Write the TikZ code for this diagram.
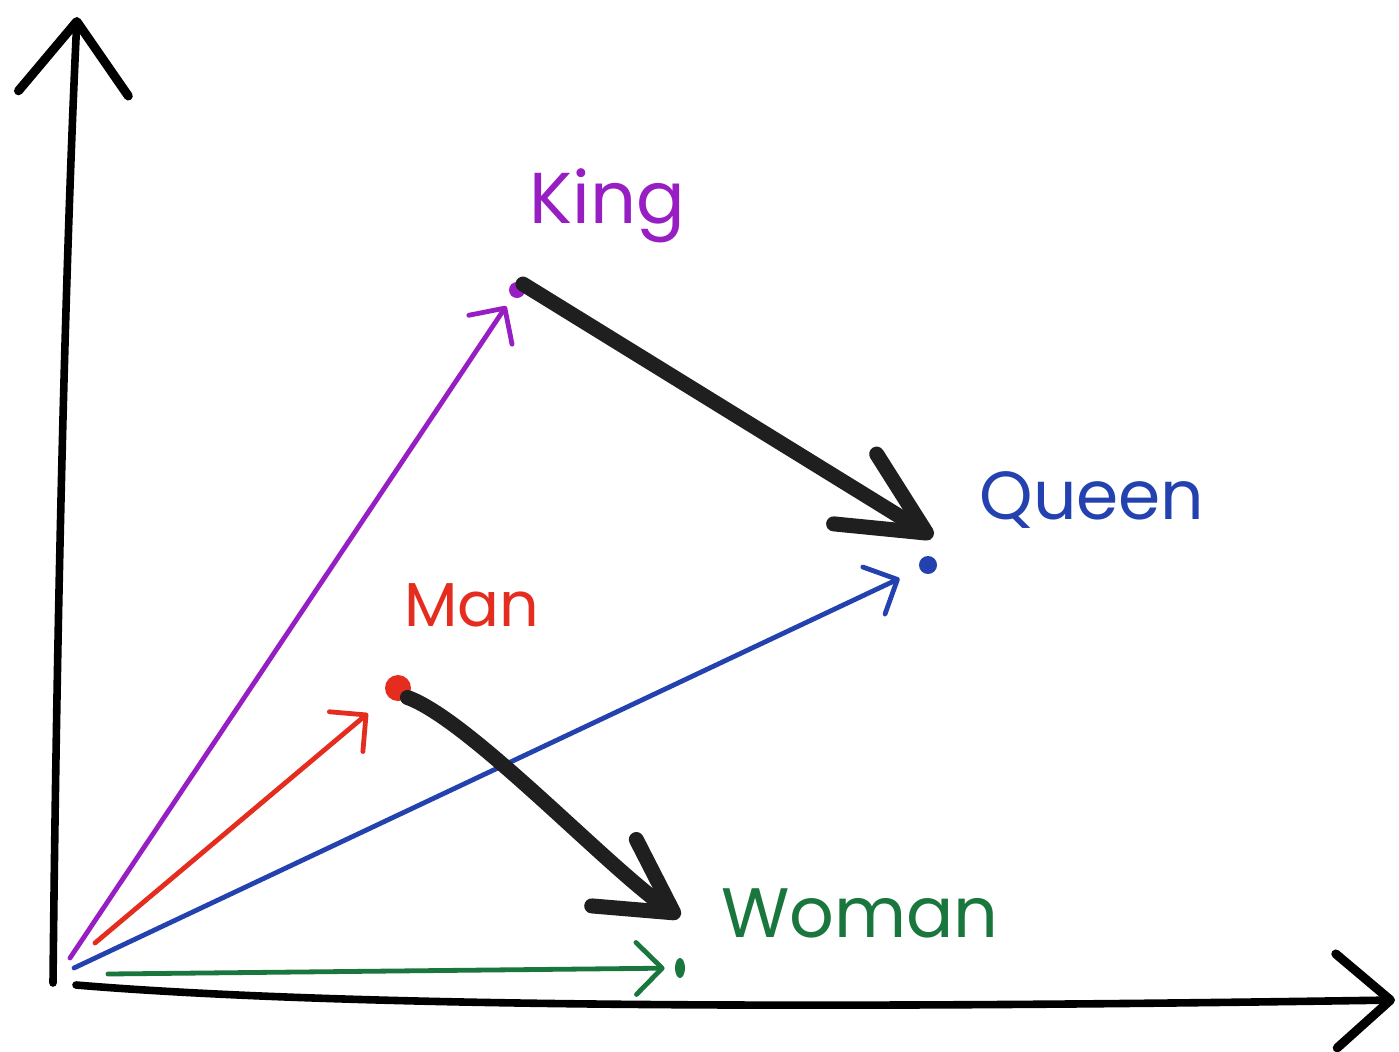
\documentclass[tikz,border=0pt]{standalone}
\usepackage{fontspec}
\setmainfont{Poppins}
\usetikzlibrary{arrows.meta,calc,shapes.geometric}
\definecolor{kingc}{RGB}{150,30,195}
\definecolor{queenc}{RGB}{35,65,175}
\definecolor{manc}{RGB}{228,45,30}
\definecolor{womanc}{RGB}{25,118,60}
\begin{document}
\begin{tikzpicture}[x=0.5pt,y=-0.5pt,
  axisline/.style={line width=3.8pt, line cap=round},
  vecline/.style={line width=2.4pt, line cap=round,
    -{Straight Barb[length=13pt,width=26pt,line cap=round,line join=round]}},
  diffarrow/.style={line width=7.5pt, line cap=round, black!88},
  pointdot/.style={circle, inner sep=0pt, minimum size=#1},
  lbl/.style={inner sep=0pt}
]
\useasboundingbox (0,0) rectangle (1399,1051);
\fill[white] (0,0) rectangle (1399,1051);

% axes
\coordinate (ytop) at (77,17);
\coordinate (ybot) at (53,983);
\coordinate (xstart) at (76,985);
\coordinate (xend) at (1395,1000);
\draw[axisline, -{Straight Barb[length=36pt,width=55pt,line width=4.5pt,line cap=round,line join=round]}]
  (ybot) .. controls (57,600) and (66,250) .. (ytop);
\draw[axisline, -{Straight Barb[length=27pt,width=47pt,line width=4.5pt,line cap=round,line join=round]}]
  (xstart) .. controls (400,1012) and (1000,1006) .. (xend);

% points
\node[pointdot=8pt, fill=kingc] (king) at (517,290) {};
\node[pointdot=9pt, fill=queenc] (queen) at (928,565) {};
\node[pointdot=13pt, fill=manc] (man) at (398,688) {};
\node[ellipse, inner sep=0pt, minimum width=5pt, minimum height=10pt, fill=womanc] (woman) at (680,968) {};

% labels
\node[lbl, text=kingc, font=\fontsize{36}{40}\selectfont] (kingL) at (607,206) {King};
\node[lbl, text=queenc, font=\fontsize{34}{40}\selectfont] (queenL) at (1092,500) {Queen};
\node[lbl, text=manc, font=\fontsize{31}{36}\selectfont] (manL) at (472,605) {Man};
\node[lbl, text=womanc, font=\fontsize{35}{40}\selectfont] (womanL) at (860,913) {Woman};

% vectors from the origin
\coordinate (oP) at (70,958);
\coordinate (oB) at (74,968);
\coordinate (oR) at (95,943);
\coordinate (oG) at (108,974);
\draw[vecline, kingc, shorten >=5.5pt] (oP) -- (king);
\draw[vecline, queenc, shorten >=11pt] (oB) -- (queen);
\draw[vecline, manc, shorten >=13pt] (oR) -- (man);
\draw[vecline, womanc, shorten >=5pt] (oG) -- (woman);

% difference arrows
\draw[diffarrow, -{Straight Barb[length=42pt,width=41pt,line cap=round,line join=round]}]
  (king.north east) -- ([shift={(5,-28)}]queen.center);
\draw[diffarrow, -{Straight Barb[length=36pt,width=40pt,line cap=round,line join=round]}]
  (man.south east) .. controls (470,720) and (610,870) .. ([shift={(0,-51)}]woman.center);
\end{tikzpicture}
\end{document}
